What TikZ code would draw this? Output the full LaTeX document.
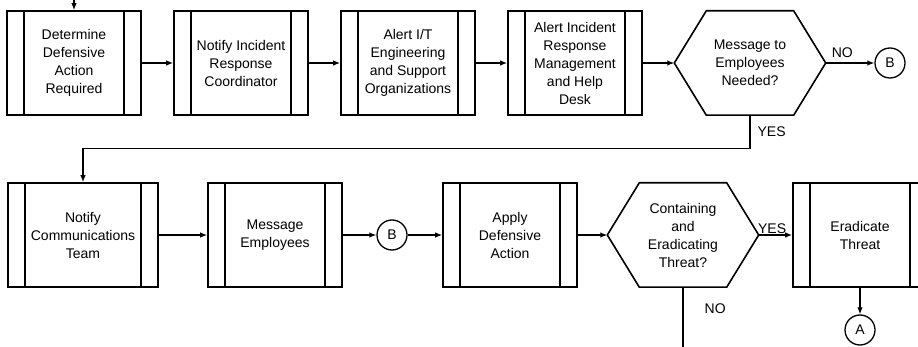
\documentclass[tikz,border=0pt]{standalone}
\usepackage{fontspec}
\setmainfont{Liberation Sans}
\usetikzlibrary{arrows.meta}

\newcommand{\flowfont}{\fontsize{14}{18}\selectfont}
\newcommand{\drawhex}[1]{%
  \draw[line width=1.6pt] (#1.west) -- ([xshift=32pt]#1.north west) -- ([xshift=-32pt]#1.north east)
    -- (#1.east) -- ([xshift=-32pt]#1.south east) -- ([xshift=32pt]#1.south west) -- cycle;}

\tikzset{
  procbox/.style={draw, line width=1.6pt, minimum width=134pt, minimum height=104pt,
    inner sep=0pt, align=center, font=\flowfont,
    path picture={\draw[line width=1.6pt]
      ([xshift=17pt]path picture bounding box.north west) -- ([xshift=17pt]path picture bounding box.south west)
      ([xshift=-17pt]path picture bounding box.north east) -- ([xshift=-17pt]path picture bounding box.south east);}},
  decision/.style={minimum width=151pt, minimum height=104pt, inner sep=0pt, align=center, font=\flowfont},
  joint/.style={draw, circle, line width=1.3pt, minimum size=30pt, inner sep=0pt, font=\flowfont},
  flow/.style={line width=1.3pt, -{Latex[length=7pt,width=5.5pt]}},
  answer/.style={font=\flowfont, inner sep=1pt}
}

\begin{document}
\begin{tikzpicture}[x=1pt,y=-1pt]
  \useasboundingbox (0,0) rectangle (918,347);

  % first row
  \node[procbox] (defact) at (74,63) {Determine\\Defensive\\Action\\Required};
  \node[procbox] (coord) at (241,63) {Notify Incident\\Response\\Coordinator};
  \node[procbox] (itsupp) at (408,63) {Alert I/T\\Engineering\\and Support\\Organizations};
  \node[procbox] (irmgmt) at (575,63) {Alert Incident\\Response\\Management\\and Help\\Desk};
  \node[decision] (msgq) at (750,63) {Message to\\Employees\\Needed?};
  \drawhex{msgq}
  \node[joint] (contb) at (890,63) {B};

  % second row
  \node[procbox, minimum width=150pt] (comms) at (83,235) {Notify\\Communications\\Team};
  \node[procbox] (msgemp) at (275,235) {Message\\Employees};
  \node[joint] (contb2) at (392,235) {B};
  \node[procbox] (apply) at (510,235) {Apply\\Defensive\\Action};
  \node[decision] (contq) at (683,235) {Containing\\and\\Eradicating\\Threat?};
  \drawhex{contq}
  \node[procbox] (eradic) at (860,235) {Eradicate\\Threat};
  \node[joint] (conta) at (860,330) {A};

  \coordinate (entry) at (74,0);
  \coordinate (noexit) at (683,347);

  \draw[flow] (entry) -- (defact);
  \draw[flow] (defact) -- (coord);
  \draw[flow] (coord) -- (itsupp);
  \draw[flow] (itsupp) -- (irmgmt);
  \draw[flow] (irmgmt) -- (msgq.west);
  \draw[flow] (msgq.east) -- node[answer, above=4pt, pos=0.34] {NO} (contb);
  \draw[flow] (msgq.south) -- node[answer, right=6pt, pos=0.5] {YES} ++(0,33) -| (comms.north);

  \draw[flow] (comms) -- (msgemp);
  \draw[flow] (msgemp) -- (contb2);
  \draw[flow] (contb2) -- (apply);
  \draw[flow] (apply) -- (contq.west);
  \draw[flow] (contq.east) -- node[answer, above, pos=0.4] {YES} (eradic);
  \draw[line width=1.3pt] (contq.south) -- node[answer, right=20pt, pos=0.36] {NO} (noexit);
  \draw[flow] (eradic) -- (conta);
\end{tikzpicture}
\end{document}
